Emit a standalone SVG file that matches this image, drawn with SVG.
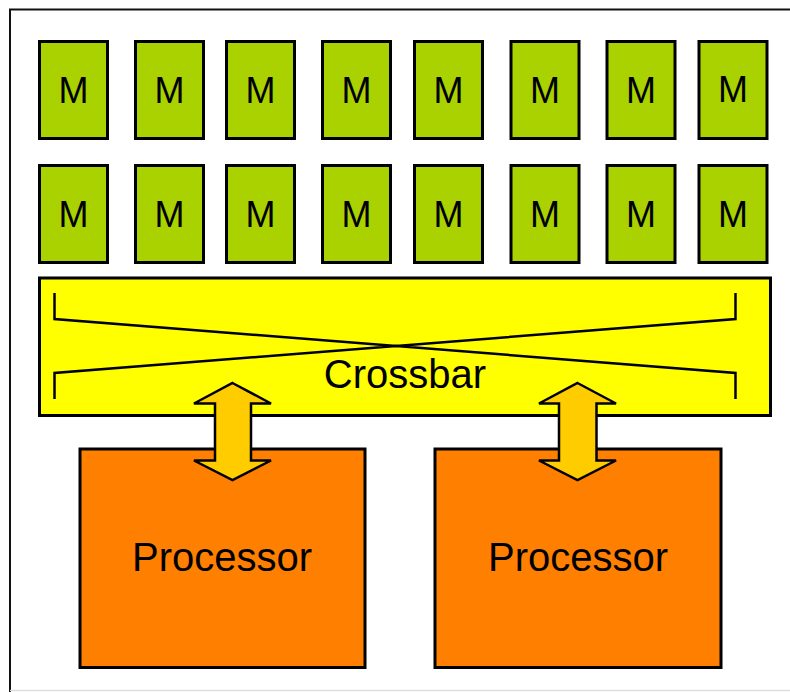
<svg xmlns="http://www.w3.org/2000/svg" width="790" height="692" viewBox="0 0 790 692">
<style>
.mem rect{fill:#AAD200;stroke:#000;stroke-width:3}
.mem text{font-family:"Liberation Sans",Arial,sans-serif;font-size:36px;fill:#000;text-anchor:middle}
.proc rect{fill:#FF7F00;stroke:#000;stroke-width:3}
.lbl{font-family:"Liberation Sans",Arial,sans-serif;font-size:40px;fill:#000;text-anchor:middle}
.arrow{fill:#FFCC00;stroke:#000;stroke-width:2.5;stroke-linejoin:miter}
</style>
<rect width="790" height="692" fill="#fff"/>
<g id="frame">
<path d="M10,692 V9.5 H790" fill="none" stroke="#111" stroke-width="2"/>
<line x1="10" y1="690.5" x2="790" y2="690.5" stroke="#ddd" stroke-width="1.5"/>
</g>
<g id="m1" class="mem"><rect x="39.5" y="41.5" width="68" height="97"/><text x="73.5" y="103">M</text></g>
<g id="m2" class="mem"><rect x="135.5" y="41.5" width="68" height="97"/><text x="169.5" y="103">M</text></g>
<g id="m3" class="mem"><rect x="226.5" y="41.5" width="68" height="97"/><text x="260.5" y="103">M</text></g>
<g id="m4" class="mem"><rect x="322.5" y="41.5" width="68" height="97"/><text x="356.5" y="103">M</text></g>
<g id="m5" class="mem"><rect x="414.5" y="41.5" width="68" height="97"/><text x="448.5" y="103">M</text></g>
<g id="m6" class="mem"><rect x="511" y="41.5" width="68" height="97"/><text x="545" y="103">M</text></g>
<g id="m7" class="mem"><rect x="607" y="41.5" width="68" height="97"/><text x="641" y="103">M</text></g>
<g id="m8" class="mem"><rect x="699" y="41.5" width="68" height="97"/><text x="733" y="102">M</text></g>
<g id="m9" class="mem"><rect x="39.5" y="165.5" width="68" height="97"/><text x="73.5" y="227">M</text></g>
<g id="m10" class="mem"><rect x="135.5" y="165.5" width="68" height="97"/><text x="169.5" y="227">M</text></g>
<g id="m11" class="mem"><rect x="226.5" y="165.5" width="68" height="97"/><text x="260.5" y="227">M</text></g>
<g id="m12" class="mem"><rect x="322.5" y="165.5" width="68" height="97"/><text x="356.5" y="227">M</text></g>
<g id="m13" class="mem"><rect x="414.5" y="165.5" width="68" height="97"/><text x="448.5" y="227">M</text></g>
<g id="m14" class="mem"><rect x="511" y="165.5" width="68" height="97"/><text x="545" y="227">M</text></g>
<g id="m15" class="mem"><rect x="607" y="165.5" width="68" height="97"/><text x="641" y="227">M</text></g>
<g id="m16" class="mem"><rect x="699" y="165.5" width="68" height="97"/><text x="733" y="227">M</text></g>
<g id="crossbar">
<rect x="39.5" y="278" width="731" height="137.5" fill="#FFFF00" stroke="#000" stroke-width="3"/>
<path d="M54.5,293 V319 L735.5,373 V399 M54.5,399 V373 L735.5,319 V293" fill="none" stroke="#000" stroke-width="2.5"/>
<text class="lbl" x="405" y="388">Crossbar</text>
</g>
<g id="p1" class="proc"><rect x="80" y="449" width="285" height="218.5"/><text class="lbl" x="222" y="571">Processor</text></g>
<g id="p2" class="proc"><rect x="435" y="449" width="286" height="218.5"/><text class="lbl" x="578" y="571">Processor</text></g>
<g id="connectors">
<path class="arrow" d="M232.5,383 L271,403.5 H251 V460.5 H271 L232.5,480 L194,460.5 H215 V403.5 H194 Z"/>
<path class="arrow" d="M577.5,383 L616,403.5 H596.5 V460.5 H616 L577.5,480 L539,460.5 H559 V403.5 H539 Z"/>
</g>
</svg>
